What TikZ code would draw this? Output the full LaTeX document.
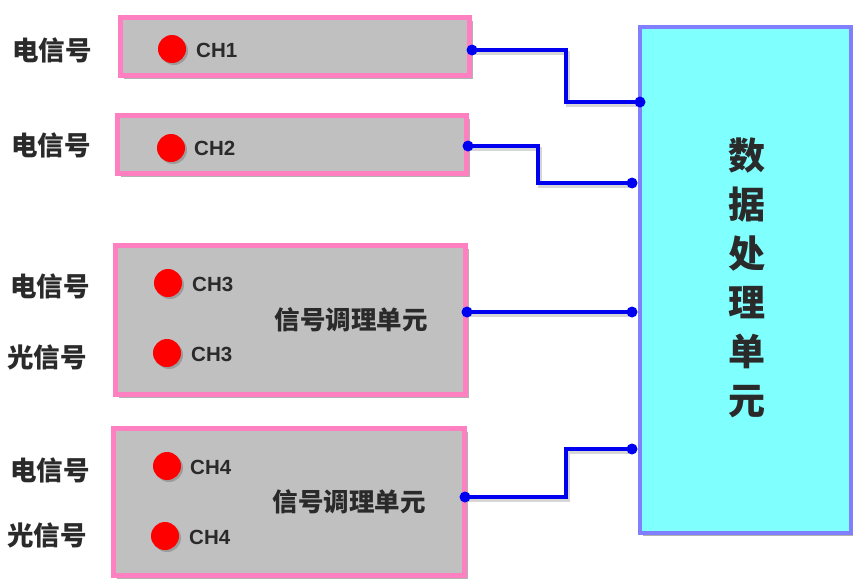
\documentclass[tikz,border=0pt]{standalone}
\usepackage{fontspec}
\setmainfont{Liberation Sans}
\newfontfamily\cjk{Noto Sans CJK SC}
\usetikzlibrary{shadows}
\definecolor{boxgray}{HTML}{C0C0C0}
\definecolor{pinkb}{HTML}{FF80C0}
\definecolor{cyanf}{HTML}{80FFFF}
\definecolor{purb}{HTML}{8080FF}
\definecolor{linkb}{HTML}{0000F0}
\definecolor{txt}{HTML}{2A2A2A}
\begin{document}
\begin{tikzpicture}[x=1pt,y=-1pt,
  shad/.style={drop shadow={shadow xshift=3pt,shadow yshift=-3pt,fill=black!60,opacity=0.5}},
  chbox/.style={draw=pinkb,fill=boxgray,line width=5pt,inner sep=0,shad},
  bigbox/.style={draw=purb,fill=cyanf,line width=4pt,inner sep=0,shad},
  lab/.style={font=\cjk\bfseries\fontsize{26.5}{26.5}\selectfont,text=txt,inner sep=0},
  unit/.style={font=\cjk\bfseries\fontsize{25.5}{25.5}\selectfont,text=txt,inner sep=0},
  chl/.style={font=\bfseries\fontsize{20.5}{20.5}\selectfont,text=txt,inner sep=0,anchor=base west},
  reddot/.style={circle,fill=red,inner sep=0,minimum size=28pt,drop shadow={shadow xshift=2pt,shadow yshift=-2pt,fill=black!60,opacity=0.4}},
  conn/.style={draw=linkb,line width=3.5pt,preaction={draw=black!40,opacity=0.4,line width=3.5pt,transform canvas={shift={(2pt,-3pt)}}}},
  portdot/.style={fill=linkb}
]
\useasboundingbox (0,0) rectangle (853,581);
\fill[white] (0,0) rectangle (853,581);

% boxes
\node[chbox,minimum width=349pt,minimum height=58pt] (b1) at (295,46.5) {};
\node[chbox,minimum width=349pt,minimum height=58pt] (b2) at (292,144.5) {};
\node[chbox,minimum width=350pt,minimum height=149pt] (b3) at (290.5,320) {};
\node[chbox,minimum width=351pt,minimum height=147pt] (b4) at (289,502) {};
\node[bigbox,minimum width=211pt,minimum height=506pt] (big) at (745.5,280) {};

% big box text
\node[font=\cjk\bfseries\fontsize{37}{49}\selectfont,text=txt,align=center,inner sep=0] (bigt) at (747,278) {数\\据\\处\\理\\单\\元};

% left labels
\node[lab] (l1) at (52,50) {电信号};
\node[lab] (l2) at (51,145) {电信号};
\node[lab] (l3) at (50,286) {电信号};
\node[lab] (l4) at (47,357) {光信号};
\node[lab] (l5) at (50,470) {电信号};
\node[lab] (l6) at (47,535) {光信号};

% red dots and channel labels
\node[reddot] (d1) at (172,49) {};
\node[chl] (c1) at (196,57) {CH1};
\node[reddot] (d2) at (171,148) {};
\node[chl] (c2) at (194,155.5) {CH2};
\node[reddot] (d3) at (168,283) {};
\node[chl] (c3) at (192,291) {CH3};
\node[reddot] (d4) at (167,353) {};
\node[chl] (c4) at (191,361) {CH3};
\node[reddot] (d5) at (167,466) {};
\node[chl] (c5) at (190,474) {CH4};
\node[reddot] (d6) at (165,536) {};
\node[chl] (c6) at (189,544) {CH4};

% unit labels
\node[unit] (u3) at (351,320) {信号调理单元};
\node[unit] (u4) at (349,502) {信号调理单元};

% ports
\coordinate (p1a) at (b1.east |- 0,50);
\coordinate (p2a) at (468,146);
\coordinate (p3a) at (467,312);
\coordinate (p4a) at (465,497);
\coordinate (p1b) at (640,102);
\coordinate (p2b) at (632,183);
\coordinate (p3b) at (632,312);
\coordinate (p4b) at (632,449);

% connectors
\draw[conn] (p1a) -- ++(94,0) |- (p1b);
\draw[conn] (p2a) -- ++(70,0) |- (p2b);
\draw[conn] (p3a) -- (p3b);
\draw[conn] (p4a) -- ++(101,0) |- (p4b);
\foreach \p in {p1a,p2a,p3a,p4a,p1b,p2b,p3b,p4b}
  \fill[portdot] (\p) circle (5.5);
\end{tikzpicture}
\end{document}
